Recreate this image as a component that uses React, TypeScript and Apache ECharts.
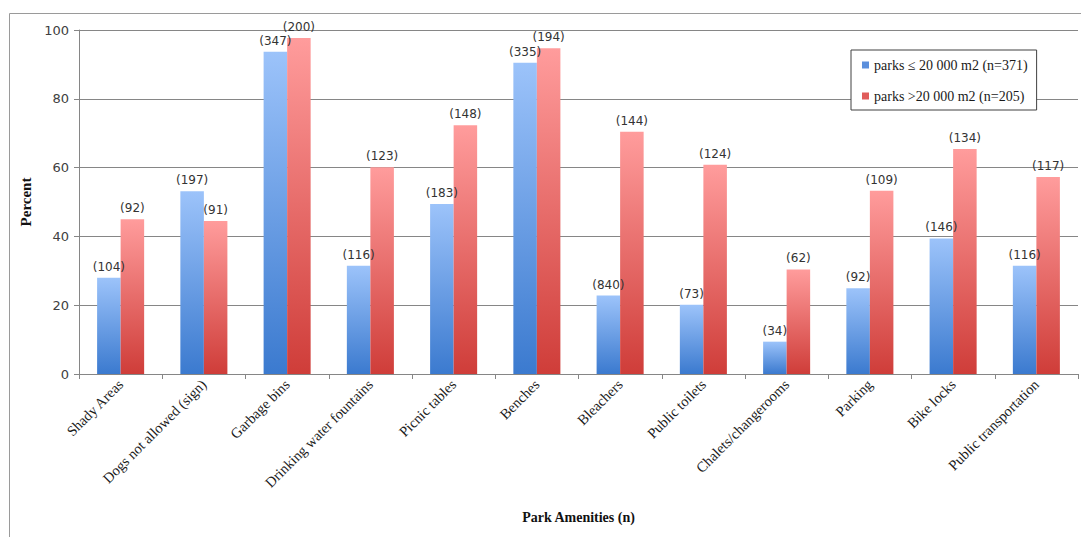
import React, { useEffect, useRef } from "react";
import * as echarts from "echarts";

// Park amenities, share of parks (%) offering each one, by park size
const categories = [
  "Shady Areas",
  "Dogs not allowed (sign)",
  "Garbage bins",
  "Drinking water fountains",
  "Picnic tables",
  "Benches",
  "Bleachers",
  "Public toilets",
  "Chalets/changerooms",
  "Parking",
  "Bike locks",
  "Public transportation",
];

const smallParkPct = [28.0, 53.1, 93.7, 31.5, 49.4, 90.5, 22.8, 20.1, 9.4, 24.9, 39.4, 31.5];
const largeParkPct = [45.0, 44.5, 97.7, 60.1, 72.3, 94.7, 70.4, 60.8, 30.4, 53.3, 65.4, 57.3];

// counts printed above each bar
const smallParkN = [104, 197, 347, 116, 183, 335, 840, 73, 34, 92, 146, 116];
const largeParkN = [92, 91, 200, 123, 148, 194, 144, 124, 62, 109, 134, 117];

const yTicks = [0, 20, 40, 60, 80, 100];

const smallName = "parks \u2264 20 000 m2 (n=371)";
const largeName = "parks >20 000 m2 (n=205)";

const serif = "'Liberation Serif', 'Times New Roman', serif";
const sans = "'DejaVu Sans', Verdana, sans-serif";

const blueGrad = new echarts.graphic.LinearGradient(0, 0, 0, 1, [
  { offset: 0, color: "#9cc3fa" },
  { offset: 1, color: "#3b7acf" },
]);
const redGrad = new echarts.graphic.LinearGradient(0, 0, 0, 1, [
  { offset: 0, color: "#ff9c9c" },
  { offset: 1, color: "#cf3d39" },
]);

export default function App() {
  const ref = useRef<HTMLDivElement>(null);

  useEffect(() => {
    if (!ref.current) return;
    const chart = echarts.init(ref.current, undefined, { renderer: "svg" });

    const barLabel = (counts: number[]) => ({
      show: true,
      position: "top" as const,
      distance: 5,
      fontFamily: sans,
      fontSize: 12,
      color: "#333333",
      formatter: (p: any) => `(${counts[p.dataIndex]})`,
    });

    chart.setOption({
      animation: false,
      backgroundColor: "#ffffff",
      grid: { left: 79, right: 3, top: 30, bottom: 163, containLabel: false },
      graphic: [
        {
          type: "line",
          shape: { x1: 9.5, y1: 13.5, x2: 1081, y2: 13.5 },
          style: { stroke: "#9a9a9a", lineWidth: 1 },
          silent: true,
        },
        {
          type: "line",
          shape: { x1: 9.5, y1: 13.5, x2: 9.5, y2: 537 },
          style: { stroke: "#9a9a9a", lineWidth: 1 },
          silent: true,
        },
      ],
      legend: {
        orient: "vertical",
        left: 851,
        top: 50,
        padding: [8, 9, 7, 11],
        itemGap: 17,
        itemWidth: 7,
        itemHeight: 7,
        backgroundColor: "#ffffff",
        borderColor: "#404040",
        borderWidth: 1,
        icon: "rect",
        textStyle: { fontFamily: serif, fontSize: 14, color: "#1a1a1a" },
        data: [
          { name: smallName, itemStyle: { color: "#5b8fdc" } },
          { name: largeName, itemStyle: { color: "#e05c5a" } },
        ],
      },
      xAxis: {
        type: "category",
        data: categories,
        name: "Park Amenities (n)",
        nameLocation: "middle",
        nameGap: 136,
        nameTextStyle: { fontFamily: serif, fontSize: 14, fontWeight: "bold", color: "#111111" },
        axisLine: { lineStyle: { color: "#868686" } },
        axisTick: { show: true, length: 5, lineStyle: { color: "#868686" } },
        axisLabel: {
          rotate: 45,
          interval: 0,
          margin: 8,
          fontFamily: serif,
          fontSize: 14.5,
          color: "#1a1a1a",
        },
      },
      yAxis: {
        type: "value",
        min: 0,
        max: 100,
        interval: 20,
        name: "Percent",
        nameLocation: "middle",
        nameGap: 36,
        nameTextStyle: { fontFamily: serif, fontSize: 15, fontWeight: "bold", color: "#111111" },
        axisLine: { show: true, lineStyle: { color: "#868686" } },
        axisTick: { show: true, length: 5, lineStyle: { color: "#868686" } },
        splitLine: { show: true, lineStyle: { color: "#868686", width: 1 } },
        axisLabel: {
          margin: 10,
          fontFamily: sans,
          fontSize: 13,
          color: "#404040",
          formatter: (v: number) => (yTicks.includes(v) ? String(v) : ""),
        },
      },
      series: [
        {
          name: smallName,
          type: "bar",
          data: smallParkPct,
          barGap: "0%",
          barCategoryGap: "43.5%",
          itemStyle: { color: blueGrad },
          label: barLabel(smallParkN),
        },
        {
          name: largeName,
          type: "bar",
          data: largeParkPct,
          barGap: "0%",
          barCategoryGap: "43.5%",
          itemStyle: { color: redGrad },
          label: barLabel(largeParkN),
        },
      ],
    });

    return () => chart.dispose();
  }, []);

  return (
    <div
      ref={ref}
      style={{ position: "absolute", left: 0, top: 0, width: 1081, height: 537, background: "#fff" }}
    />
  );
}
